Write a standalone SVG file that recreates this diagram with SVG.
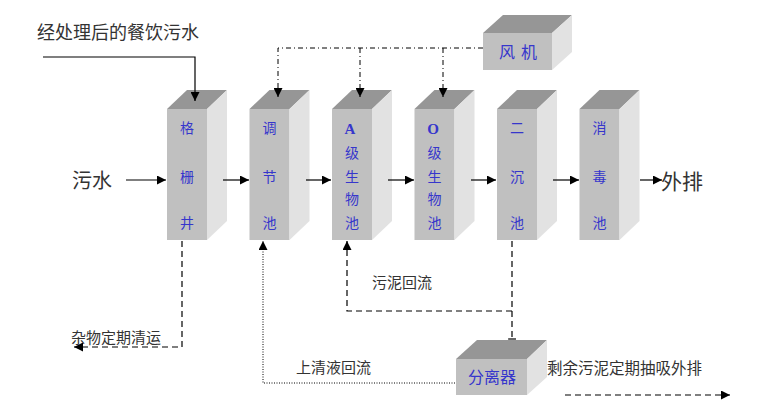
<svg xmlns="http://www.w3.org/2000/svg" width="783" height="414" viewBox="0 0 783 414">
<defs>
<style>
.front{fill:#c0c0c0}
.top{fill:#969696}
.side{fill:#e2e2e2}
.bl{font-family:"Liberation Serif","Noto Sans CJK SC",serif;font-size:14px;fill:#3636cc;text-anchor:middle;dominant-baseline:central}
.lat{font-family:"Liberation Serif",serif;font-weight:bold;font-size:15px;fill:#3636cc;text-anchor:middle;dominant-baseline:central}
.lbl{font-family:"Liberation Serif","Noto Sans CJK SC",serif;fill:#333;dominant-baseline:central}
.ln{fill:none;stroke:#000;stroke-width:1.2}
.dash{stroke-dasharray:6 4}
.dot{stroke-width:1;stroke-dasharray:1 1.5}
.dd{stroke-width:1;stroke-dasharray:5 3 1 3}
</style>
<marker id="ah" viewBox="0 0 10 10" refX="10" refY="5" markerWidth="9" markerHeight="9" markerUnits="userSpaceOnUse" orient="auto">
<path d="M0,0 L10,5 L0,10 z" fill="#000"/>
</marker>
</defs>

<g id="n_geshan">
<polygon class="front" points="167,109 207,109 207,240 167,240"/>
<polygon class="top" points="167,109 187,90 227,90 207,109"/>
<polygon class="side" points="207,109 227,90 227,221 207,240"/>
<text class="bl" x="187" y="128">格</text>
<text class="bl" x="187" y="177">栅</text>
<text class="bl" x="187" y="223">井</text>
</g>
<g id="n_tiaojie">
<polygon class="front" points="249.5,109 289.5,109 289.5,240 249.5,240"/>
<polygon class="top" points="249.5,109 269.5,90 309.5,90 289.5,109"/>
<polygon class="side" points="289.5,109 309.5,90 309.5,221 289.5,240"/>
<text class="bl" x="269.5" y="128">调</text>
<text class="bl" x="269.5" y="177">节</text>
<text class="bl" x="269.5" y="223">池</text>
</g>
<g id="n_a">
<polygon class="front" points="332,109 372,109 372,240 332,240"/>
<polygon class="top" points="332,109 352,90 392,90 372,109"/>
<polygon class="side" points="372,109 392,90 392,221 372,240"/>
<text class="lat" x="350" y="129">A</text>
<text class="bl" x="352" y="153">级</text>
<text class="bl" x="352" y="177">生</text>
<text class="bl" x="352" y="199">物</text>
<text class="bl" x="352" y="223">池</text>
</g>
<g id="n_o">
<polygon class="front" points="414.5,109 454.5,109 454.5,240 414.5,240"/>
<polygon class="top" points="414.5,109 434.5,90 474.5,90 454.5,109"/>
<polygon class="side" points="454.5,109 474.5,90 474.5,221 454.5,240"/>
<text class="lat" x="433" y="129">O</text>
<text class="bl" x="434.5" y="153">级</text>
<text class="bl" x="434.5" y="177">生</text>
<text class="bl" x="434.5" y="199">物</text>
<text class="bl" x="434.5" y="223">池</text>
</g>
<g id="n_erchen">
<polygon class="front" points="497,109 537,109 537,240 497,240"/>
<polygon class="top" points="497,109 517,90 557,90 537,109"/>
<polygon class="side" points="537,109 557,90 557,221 537,240"/>
<text class="bl" x="517" y="128">二</text>
<text class="bl" x="517" y="177">沉</text>
<text class="bl" x="517" y="223">池</text>
</g>
<g id="n_xiaodu">
<polygon class="front" points="579.5,109 619.5,109 619.5,240 579.5,240"/>
<polygon class="top" points="579.5,109 599.5,90 639.5,90 619.5,109"/>
<polygon class="side" points="619.5,109 639.5,90 639.5,221 619.5,240"/>
<text class="bl" x="599.5" y="128">消</text>
<text class="bl" x="599.5" y="177">毒</text>
<text class="bl" x="599.5" y="223">池</text>
</g>
<g id="n_fengji">
<polygon class="front" points="483,33 552,33 552,70 483,70"/>
<polygon class="top" points="483,33 503,15 572,15 552,33"/>
<polygon class="side" points="552,33 572,15 572,52 552,70"/>
<text class="bl" x="507" y="52" style="font-size:16px">风</text>
<text class="bl" x="529" y="52" style="font-size:16px">机</text>
</g>
<g id="n_fenli">
<polygon class="front" points="456,359 527,359 527,395 456,395"/>
<polygon class="top" points="456,359 477,340 547,340 527,359"/>
<polygon class="side" points="527,359 547,340 547,377 527,395"/>
<text class="bl" x="492" y="377" style="font-size:16px">分离器</text>
</g>

<g id="labels">
<text class="lbl" x="37" y="33" style="font-size:18px">经处理后的餐饮污水</text>
<text class="lbl" x="72" y="181" style="font-size:20px">污水</text>
<text class="lbl" x="661" y="182" style="font-size:21px">外排</text>
<text class="lbl" x="71" y="338" style="font-size:15px">杂物定期清运</text>
<text class="lbl" x="296" y="368" style="font-size:15px">上清液回流</text>
<text class="lbl" x="372" y="283" style="font-size:15px">污泥回流</text>
<text class="lbl" x="547" y="368" style="font-size:15.5px">剩余污泥定期抽吸外排</text>
</g>

<g id="connectors">
<path class="ln" d="M43,57 H195 V101" marker-end="url(#ah)"/>
<path class="ln" d="M126,180 H166" marker-end="url(#ah)"/>
<path class="ln" d="M223,180 H249" marker-end="url(#ah)"/>
<path class="ln" d="M306,180 H331" marker-end="url(#ah)"/>
<path class="ln" d="M388,180 H414" marker-end="url(#ah)"/>
<path class="ln" d="M471,180 H496" marker-end="url(#ah)"/>
<path class="ln" d="M553,180 H579" marker-end="url(#ah)"/>
<path class="ln" d="M640,180 H662" marker-end="url(#ah)"/>
<path class="ln dd" d="M483,48 H278 V97" marker-end="url(#ah)"/>
<path class="ln dd" d="M360,48 V97" marker-end="url(#ah)"/>
<path class="ln dd" d="M443,48 V97" marker-end="url(#ah)"/>
<path class="ln dash" d="M182,241 V347 H74" marker-end="url(#ah)"/>
<path class="ln dash" d="M512,241 V311 H347 V241" marker-end="url(#ah)"/>
<path class="ln dash" d="M512,311 V339"/>
<path class="ln" d="M508,339 H516"/>
<path class="ln dot" d="M455,383 H263 V241" marker-end="url(#ah)"/>
<path class="ln dash" d="M565,395 H730" marker-end="url(#ah)"/>
</g>
</svg>
